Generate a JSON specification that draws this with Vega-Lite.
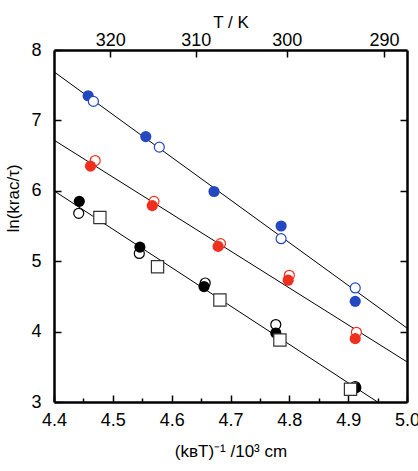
{
  "$schema": "https://vega.github.io/schema/vega-lite/v6.json",
  "width": 353,
  "height": 352,
  "autosize": {"type": "none"},
  "padding": {"left": 54, "top": 50, "right": 11, "bottom": 69},
  "background": "white",
  "config": {
    "view": {"stroke": null},
    "font": "Liberation Sans",
    "axis": {"grid": false, "domainColor": "black", "tickColor": "black", "labelColor": "black", "titleColor": "black", "labelFont": "Liberation Sans", "titleFont": "Liberation Sans", "titleFontWeight": "normal", "labelFontSize": 18, "titleFontSize": 17}
  },
  "datasets": {
    "lines": [
      {"series": "blue", "x": 4.4, "y": 7.69},
      {"series": "blue", "x": 5.0, "y": 4.05},
      {"series": "red", "x": 4.4, "y": 6.72},
      {"series": "red", "x": 5.0, "y": 3.57},
      {"series": "black", "x": 4.4, "y": 6.0},
      {"series": "black", "x": 4.95, "y": 3.0}
    ],
    "points": [
      {"series": "blue", "marker": "filled", "x": 4.458, "y": 7.35},
      {"series": "blue", "marker": "filled", "x": 4.556, "y": 6.77},
      {"series": "blue", "marker": "filled", "x": 4.672, "y": 5.99},
      {"series": "blue", "marker": "filled", "x": 4.786, "y": 5.50},
      {"series": "blue", "marker": "filled", "x": 4.912, "y": 4.43},
      {"series": "blue", "marker": "open", "x": 4.467, "y": 7.27},
      {"series": "blue", "marker": "open", "x": 4.579, "y": 6.62},
      {"series": "blue", "marker": "open", "x": 4.786, "y": 5.32},
      {"series": "blue", "marker": "open", "x": 4.912, "y": 4.62},
      {"series": "red", "marker": "filled", "x": 4.462, "y": 6.35},
      {"series": "red", "marker": "filled", "x": 4.567, "y": 5.79},
      {"series": "red", "marker": "filled", "x": 4.679, "y": 5.21},
      {"series": "red", "marker": "filled", "x": 4.798, "y": 4.73},
      {"series": "red", "marker": "filled", "x": 4.912, "y": 3.90},
      {"series": "red", "marker": "open", "x": 4.470, "y": 6.43},
      {"series": "red", "marker": "open", "x": 4.570, "y": 5.85},
      {"series": "red", "marker": "open", "x": 4.683, "y": 5.25},
      {"series": "red", "marker": "open", "x": 4.800, "y": 4.80},
      {"series": "red", "marker": "open", "x": 4.914, "y": 3.99},
      {"series": "black", "marker": "filled", "x": 4.443, "y": 5.85},
      {"series": "black", "marker": "filled", "x": 4.546, "y": 5.20},
      {"series": "black", "marker": "filled", "x": 4.655, "y": 4.64},
      {"series": "black", "marker": "filled", "x": 4.777, "y": 3.98},
      {"series": "black", "marker": "filled", "x": 4.913, "y": 3.20},
      {"series": "black", "marker": "open", "x": 4.442, "y": 5.68},
      {"series": "black", "marker": "open", "x": 4.545, "y": 5.11},
      {"series": "black", "marker": "open", "x": 4.657, "y": 4.69},
      {"series": "black", "marker": "open", "x": 4.777, "y": 4.10},
      {"series": "black", "marker": "open", "x": 4.912, "y": 3.22},
      {"series": "black", "marker": "square", "x": 4.478, "y": 5.62},
      {"series": "black", "marker": "square", "x": 4.576, "y": 4.92},
      {"series": "black", "marker": "square", "x": 4.682, "y": 4.45},
      {"series": "black", "marker": "square", "x": 4.784, "y": 3.88},
      {"series": "black", "marker": "square", "x": 4.904, "y": 3.18}
    ]
  },
  "resolve": {"axis": {"x": "independent", "y": "independent"}},
  "layer": [
    {
      "data": {"name": "lines"},
      "mark": {"type": "line", "color": "black", "strokeWidth": 1, "clip": true},
      "encoding": {
        "x": {"field": "x", "type": "quantitative", "scale": {"domain": [4.4, 5.0], "nice": false, "zero": false},
          "axis": {"orient": "bottom", "values": [4.4, 4.5, 4.6, 4.7, 4.8, 4.9, 5.0], "format": ".1f", "tickSize": -7, "tickWidth": 1.5, "domainWidth": 2.5, "labelPadding": 16, "labelFlush": false, "labelOverlap": false, "title": "(kʙT)⁻¹ /10³ cm", "titlePadding": 14}},
        "y": {"field": "y", "type": "quantitative", "scale": {"domain": [3, 8], "nice": false, "zero": false},
          "axis": {"orient": "left", "values": [3, 4, 5, 6, 7, 8], "format": "d", "tickSize": -7, "tickWidth": 1.5, "domainWidth": 2.5, "labelPadding": 20, "labelFlush": false, "labelOverlap": false, "title": "ln(krac/τ)", "titleX": -32, "titleY": 148}},
        "detail": {"field": "series"}
      }
    },
    {
      "data": {"name": "points"},
      "transform": [{"filter": "datum.marker === 'open' && datum.series !== 'blue'"}],
      "mark": {"type": "point", "shape": "circle", "size": 100, "filled": false, "fill": "white", "fillOpacity": 1, "strokeWidth": 1.2, "opacity": 1},
      "encoding": {
        "x": {"field": "x", "type": "quantitative",
          "axis": {"orient": "bottom", "values": [4.45, 4.55, 4.65, 4.75, 4.85, 4.95], "labels": false, "domain": false, "tickSize": -4, "tickWidth": 1.5, "title": null}},
        "y": {"field": "y", "type": "quantitative",
          "axis": {"orient": "right", "values": [4, 5, 6, 7], "labels": false, "tickSize": -7, "tickWidth": 1.5, "domainWidth": 2.5, "title": null}},
        "stroke": {"field": "series", "type": "nominal", "scale": {"domain": ["blue", "red", "black"], "range": ["#2448c0", "#f0301e", "#000000"]}, "legend": null}
      }
    },
    {
      "data": {"name": "points"},
      "transform": [{"filter": "datum.marker === 'filled'"}],
      "mark": {"type": "point", "shape": "circle", "size": 125, "filled": true, "opacity": 1, "strokeWidth": 0},
      "encoding": {
        "x": {"field": "x", "type": "quantitative",
          "axis": {"orient": "top", "values": [4.49581, 4.64084, 4.79553, 4.96090], "labelExpr": "format(round(1000 / (0.695035 * datum.value)), 'd')", "tickSize": -7, "tickWidth": 1.5, "domainWidth": 2.5, "labelPadding": 8, "labelFlush": false, "labelOverlap": false, "title": "T / K", "titlePadding": 0}},
        "y": {"field": "y", "type": "quantitative", "axis": null},
        "fill": {"field": "series", "type": "nominal", "scale": {"domain": ["blue", "red", "black"], "range": ["#2448c0", "#f0301e", "#000000"]}, "legend": null}
      }
    },
    {
      "data": {"name": "points"},
      "transform": [{"filter": "datum.marker === 'open' && datum.series === 'blue'"}],
      "mark": {"type": "point", "shape": "circle", "size": 100, "filled": false, "fill": "white", "fillOpacity": 1, "strokeWidth": 1.2, "opacity": 1},
      "encoding": {
        "x": {"field": "x", "type": "quantitative", "axis": null},
        "y": {"field": "y", "type": "quantitative", "axis": null},
        "stroke": {"field": "series", "type": "nominal", "legend": null}
      }
    },
    {
      "data": {"name": "points"},
      "transform": [{"filter": "datum.marker === 'square'"}],
      "mark": {"type": "point", "shape": "square", "size": 150, "filled": false, "fill": "white", "fillOpacity": 1, "stroke": "#333333", "strokeWidth": 1.2, "opacity": 1},
      "encoding": {
        "x": {"field": "x", "type": "quantitative", "axis": null},
        "y": {"field": "y", "type": "quantitative", "axis": null}
      }
    }
  ]
}
